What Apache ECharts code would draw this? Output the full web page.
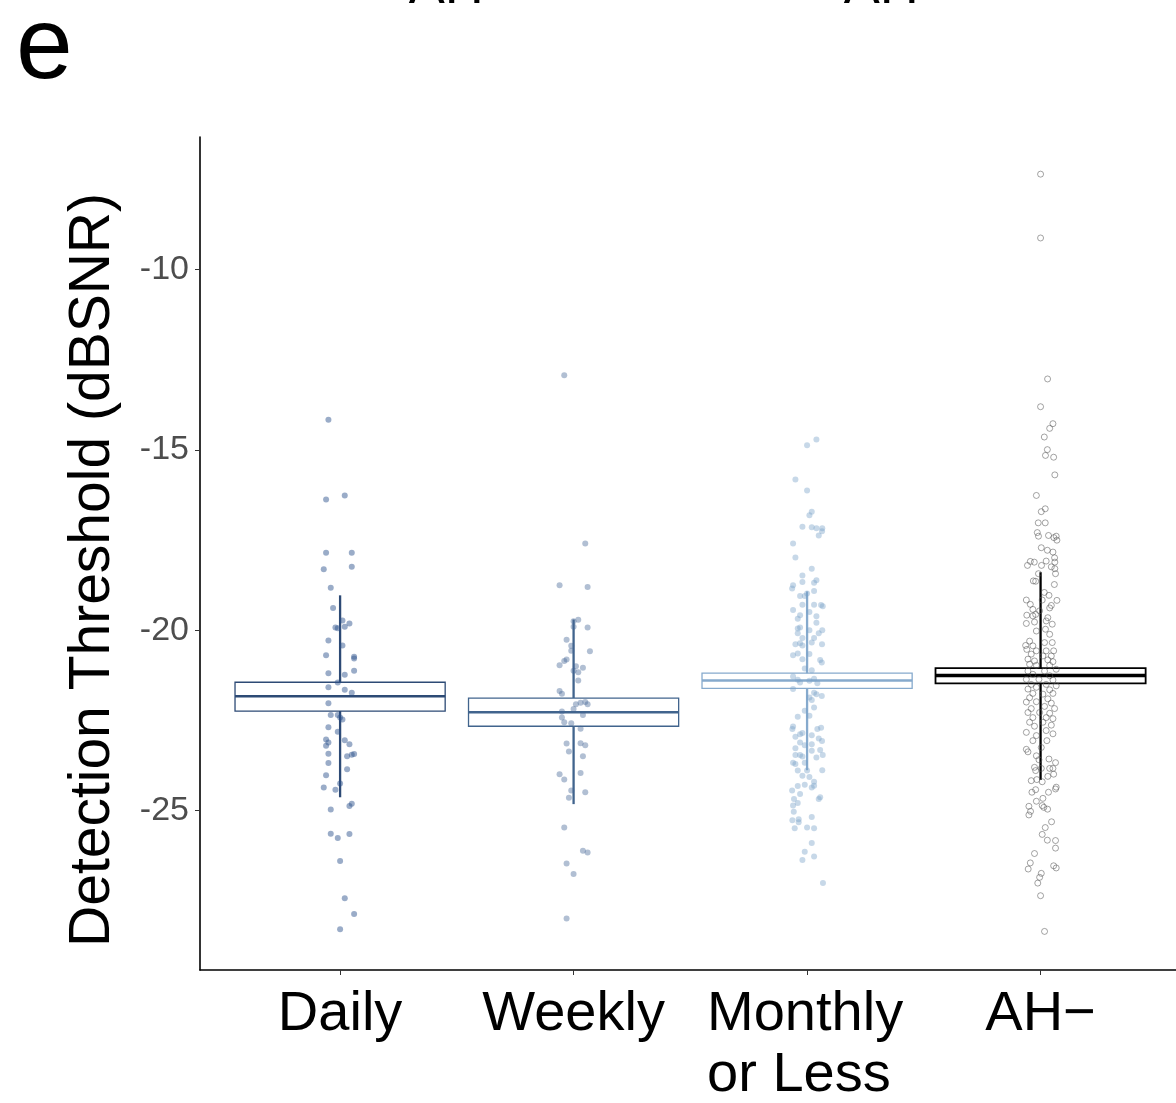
<!DOCTYPE html>
<html>
<head>
<meta charset="utf-8">
<script src="https://cdn.jsdelivr.net/npm/echarts@6/dist/echarts.min.js"></script>
<style>
html,body{margin:0;padding:0;background:#fff;}
#chart{width:1176px;height:1103px;}
</style>
</head>
<body>
<div id="chart"></div>
<script>
// ---------- data ----------
const categories = ['Daily', 'Weekly', 'Monthly\nor Less', 'AH\u2212'];
const yTicks = [-25, -20, -15, -10];
const yTitle = 'Detection Threshold (dBSNR)';
const panelLetter = 'e';
const topLabels = ['AH+', 'AH\u2212'];

// summary bars (mean box and range line)
const boxMid  = [-21.83, -22.27, -21.39, -21.25];
const boxLow  = [-22.24, -22.66, -21.61, -21.47];
const boxHigh = [-21.44, -21.88, -21.19, -21.05];
const lineLow  = [-24.63, -24.82, -23.88, -24.15];
const lineHigh = [-19.03, -19.70, -18.92, -18.39];

// jittered points: [jitter offset (category units), value]
const dailyPoints = [
[-0.05,-14.16],[-0.06,-16.37],[0.02,-16.26],[-0.06,-17.85],[0.05,-17.85],[-0.07,-18.31],[0.05,-18.24],[-0.04,-18.82],
[-0.03,-19.38],[0.01,-19.73],[0.04,-19.81],[-0.02,-19.92],[-0.01,-19.94],[0.02,-19.90],[-0.05,-20.28],[0.01,-20.42],
[-0.06,-20.69],[0.06,-20.73],[0.06,-20.78],[-0.05,-21.19],[0.02,-21.23],[0.06,-21.12],
[-0.01,-21.45],[-0.05,-21.58],[0.02,-21.65],[0.05,-21.73],[-0.05,-22.02],[-0.04,-22.35],[-0.01,-22.35],[0,-22.42],
[0.01,-22.47],[-0.05,-22.69],[-0.01,-22.81],[-0.06,-23.03],[-0.05,-23.11],[-0.06,-23.20],[0.02,-23.05],[0.04,-23.16],
[-0.05,-23.42],[0.03,-23.49],[0.05,-23.45],[0.06,-23.43],[-0.05,-23.68],[0.03,-23.85],[-0.06,-24.02],[0,-24.25],
[-0.07,-24.36],[-0.02,-24.42],[0.04,-24.87],[0.05,-24.81],[-0.04,-24.97],[-0.04,-25.64],[0.04,-25.65],[-0.01,-25.76],
[0,-26.40],[0.02,-27.43],[0.06,-27.87],[0,-28.29]
];
const weeklyPoints = [
[-0.04,-12.93],[0.05,-17.59],[-0.06,-18.75],[0.06,-18.80],[0,-19.75],[0.02,-19.71],[0,-19.90],[0.06,-19.92],
[-0.03,-20.26],[-0.01,-20.43],[0.07,-20.58],
[-0.01,-20.57],[-0.03,-20.81],[-0.04,-20.85],[-0.06,-20.97],[0.01,-21.00],[0.04,-21.04],[0,-21.12],[0.02,-21.16],
[0.02,-21.39],[-0.06,-21.68],[-0.05,-21.76],[0.01,-22.05],[0.03,-22.01],[0.05,-21.99],[0.06,-22.05],[0,-22.18],
[-0.05,-22.25],[0.04,-22.35],[-0.05,-22.42],[-0.04,-22.55],[-0.01,-22.58],[0.03,-22.73],[-0.03,-23.14],[0.03,-23.13],
[0.05,-23.19],[-0.02,-23.36],[0.04,-23.49],[-0.06,-23.99],[0.03,-23.96],[-0.04,-24.14],[-0.01,-24.44],[0.05,-24.49],
[-0.02,-24.64],[-0.04,-25.47],[0.04,-26.11],[0.06,-26.16],[-0.03,-26.47],[0,-26.76],[-0.03,-27.99]
];
const monthlyPoints = [
[0.04,-14.71],[0,-14.87],[-0.05,-15.82],[0,-16.12],[0.02,-16.71],[0.01,-16.81],[-0.02,-17.13],[0.02,-17.14],
[0.04,-17.17],[0.065,-17.17],[0.064,-17.25],[0.05,-17.37],[-0.06,-17.59],[-0.05,-17.98],[0.02,-18.29],[-0.02,-18.48],
[0.04,-18.61],[-0.02,-18.66],[0.03,-18.68],[-0.06,-18.75],[-0.064,-18.84],[0.03,-18.91],[0,-18.98],[-0.03,-19.05],
[-0.01,-19.05],[-0.02,-19.29],[0.03,-19.29],[0.06,-19.30],[0.067,-19.33],[-0.06,-19.44],[0.01,-19.49],[-0.03,-19.58],
[0.04,-19.61],[-0.04,-19.68],[0.04,-19.79],[-0.04,-19.95],[-0.03,-19.92],[0.01,-20.00],[0.05,-20.08],[0.065,-20.00],
[-0.04,-20.08],[-0.02,-20.21],[0.03,-20.21],
[-0.05,-20.39],[-0.03,-20.36],[-0.02,-20.42],[0.02,-20.34],[0.064,-20.39],[-0.06,-20.69],[-0.04,-20.64],[0.01,-20.66],
[-0.02,-20.80],[0.056,-20.82],[0.063,-20.89],[-0.01,-21.06],[0.02,-21.11],[-0.06,-21.28],[-0.04,-21.37],[-0.03,-21.45],
[0.01,-21.40],[0.03,-21.34],[0.044,-21.47],[-0.06,-21.63],[0.03,-21.73],[0.04,-21.77],[0.063,-21.82],[0.01,-21.86],
[0.02,-21.93],[0.03,-22.14],[-0.01,-22.23],[0.01,-22.37],[-0.04,-22.40],[-0.06,-22.67],[-0.063,-22.74],[0.044,-22.74],
[0.06,-22.70],[-0.05,-22.95],[-0.03,-22.88],[-0.02,-22.85],[0.02,-22.91],[0.05,-23.00],[0.064,-23.07],[-0.03,-23.11],
[-0.01,-23.19],[0.02,-23.16],[-0.05,-23.27],[0.02,-23.34],[0.056,-23.32],[-0.05,-23.46],[-0.03,-23.46],[-0.02,-23.50],
[0.067,-23.46],[0.04,-23.53],[-0.06,-23.67],[-0.05,-23.71],[-0.01,-23.67],[-0.04,-23.89],[0,-23.89],[0.065,-23.88],
[-0.02,-24.03],[0.01,-24.07],[0.03,-24.20],[-0.04,-24.32],[-0.01,-24.28],[0.02,-24.36],[0.03,-24.31],[-0.064,-24.44],
[-0.03,-24.54],[0.056,-24.63],[0.05,-24.68],[-0.056,-24.68],[-0.04,-24.79],[-0.06,-24.86],[-0.057,-25.03],[0.02,-25.18],
[-0.063,-25.27],[-0.036,-25.24],[-0.036,-25.32],[-0.053,-25.49],[0,-25.47],[0.03,-25.49],[0.02,-25.90],[-0.01,-26.14],
[0.03,-26.27],[-0.02,-26.37],[0.068,-27.01]
];
const ahNegPoints = [
[0,-7.35],[0,-9.12],[0.03,-13.03],[0,-13.80],[0.053,-14.27],[0.039,-14.40],[0.016,-14.64],[0.029,-14.99],
[0.021,-15.15],[0.056,-15.20],[0.061,-15.69],
[-0.018,-16.26],[0.003,-16.71],[0.02,-16.63],[-0.01,-17.02],[0.02,-17.02],[-0.014,-17.29],[-0.009,-17.39],[0.034,-17.37],
[0.057,-17.43],[0.067,-17.39],[0.07,-17.50],[0.003,-17.71],[0.029,-17.78],[0.053,-17.83],[0.06,-17.99],[-0.044,-18.09],
[-0.056,-18.20],[-0.027,-18.11],[0.004,-18.20],[0.024,-18.08],[0.046,-18.24],[0.061,-18.11],[0.061,-18.29],[0.064,-18.43],
[-0.009,-18.43],[-0.031,-18.63],[-0.021,-18.64],[0.059,-18.73],[0.016,-18.95],[0.036,-19.03],[-0.061,-19.16],[0.007,-19.16],
[0.07,-19.17],[-0.044,-19.28],[0.046,-19.31],[0.039,-19.38],[-0.033,-19.42],[-0.004,-19.46],[-0.059,-19.58],[-0.033,-19.60],
[-0.021,-19.56],[0.031,-19.65],
[-0.061,-19.81],[-0.026,-19.77],[0.024,-19.74],[0.05,-19.83],[-0.018,-20.02],[0.021,-19.97],[0.039,-20.11],[-0.047,-20.30],
[-0.064,-20.42],[-0.033,-20.43],[0.017,-20.34],[0.05,-20.34],[-0.059,-20.53],[-0.018,-20.57],[0.024,-20.57],[0.056,-20.57],
[-0.04,-20.66],[0.01,-20.71],[0.046,-20.71],[-0.054,-20.80],[-0.026,-20.85],[0.031,-20.82],[0.053,-20.87],[-0.047,-20.94],
[-0.018,-20.97],[0.039,-20.97],[0.067,-21.08],[-0.054,-21.13],[0.017,-21.13],[-0.033,-21.22],[0.039,-21.26],[-0.061,-21.36],
[-0.007,-21.36],[0.053,-21.38],[-0.04,-21.50],[0.024,-21.50],[0.067,-21.54],[-0.054,-21.63],[-0.018,-21.58],[0.039,-21.65],
[-0.033,-21.75],[0.01,-21.77],[0.053,-21.75],[-0.047,-21.87],[0.031,-21.90],[-0.061,-21.99],[-0.018,-21.98],[0.046,-22.02],
[0.017,-22.11],[-0.04,-22.17],[0.06,-22.17],[-0.054,-22.28],[-0.004,-22.28],[0.039,-22.30],[-0.033,-22.42],[0.024,-22.42],
[0.053,-22.45],[-0.047,-22.55],[0.01,-22.55],[0.046,-22.63],[-0.026,-22.66],[-0.061,-22.83],[0.024,-22.78],[0.053,-22.87],
[-0.018,-22.92],
[-0.033,-23.06],[0.027,-23.06],[-0.061,-23.30],[-0.054,-23.37],[0.003,-23.25],[-0.018,-23.48],[-0.007,-23.59],[0.036,-23.57],
[0.064,-23.67],[-0.026,-23.80],[0.003,-23.83],[0.039,-23.83],[0.053,-23.83],[-0.021,-23.89],[0.056,-23.99],[0.031,-24.05],
[-0.04,-24.17],[-0.016,-24.14],[0.007,-24.20],[0.067,-24.35],[0.064,-24.40],[-0.021,-24.42],[-0.037,-24.49],[0.034,-24.49],
[0.01,-24.66],[-0.018,-24.74],[-0.05,-24.88],[0.007,-24.86],[0.014,-24.91],[0.03,-24.96],[-0.043,-25.02],[-0.05,-25.12],
[0.047,-25.31],[0.02,-25.47],[0.007,-25.66],[0.029,-25.82],[0.064,-25.83],[0.064,-26.04],[-0.026,-26.19],[-0.044,-26.45],
[-0.053,-26.62],[0.056,-26.53],[0.067,-26.59],[0.003,-26.74],[-0.004,-26.85],[-0.012,-27.01],[0,-27.36],[0.017,-28.35]
];
const groupPoints = [dailyPoints, weeklyPoints, monthlyPoints, ahNegPoints];

// ---------- styles ----------
const boxColors = ['#2d4a75', '#41648d', '#86aacd', '#000000'];
const boxBorder = [1.3, 1.3, 1.3, 1.8];
const midWidth = [2.5, 2.5, 2.5, 3.5];
const pointStyles = [
  {color: 'rgba(44,82,140,0.6)', borderWidth: 0},
  {color: 'rgba(68,102,148,0.52)', borderWidth: 0},
  {color: 'rgba(120,160,200,0.52)', borderWidth: 0},
  {color: 'rgba(255,255,255,0)', borderColor: 'rgba(85,85,85,0.75)', borderWidth: 0.9}
];
const pointSizes = [6, 6, 6, 6];

const chart = echarts.init(document.getElementById('chart'), null, {renderer: 'canvas'});
const FONT = '"Liberation Sans", Arial, Helvetica, sans-serif';

const lineData = categories.map((c, i) => [i + 1, lineLow[i], lineHigh[i]]);
const boxData = categories.map((c, i) => [i + 1, boxLow[i], boxHigh[i], boxMid[i]]);

const series = [
  {
    type: 'custom', z: 1, data: lineData, silent: true,
    renderItem: function (params, api) {
      const i = params.dataIndex;
      const a = api.coord([api.value(0), api.value(1)]);
      const b = api.coord([api.value(0), api.value(2)]);
      return {type: 'line', shape: {x1: a[0], y1: a[1], x2: b[0], y2: b[1]},
        style: {stroke: boxColors[i], lineWidth: 2.3}};
    }
  },
  {
    type: 'custom', z: 2, data: boxData, silent: true,
    renderItem: function (params, api) {
      const i = params.dataIndex;
      const x = api.value(0);
      const p1 = api.coord([x - 0.45, api.value(2)]);
      const p2 = api.coord([x + 0.45, api.value(1)]);
      const m1 = api.coord([x - 0.45, api.value(3)]);
      const m2 = api.coord([x + 0.45, api.value(3)]);
      return {type: 'group', children: [
        {type: 'rect', shape: {x: p1[0], y: p1[1], width: p2[0] - p1[0], height: p2[1] - p1[1]},
          style: {fill: '#fff', stroke: boxColors[i], lineWidth: boxBorder[i]}},
        {type: 'line', shape: {x1: m1[0], y1: m1[1], x2: m2[0], y2: m2[1]},
          style: {stroke: boxColors[i], lineWidth: midWidth[i]}}
      ]};
    }
  }
];
groupPoints.forEach((pts, gi) => {
  series.push({
    type: 'scatter', z: 3, silent: true,
    symbol: 'circle', symbolSize: pointSizes[gi],
    itemStyle: pointStyles[gi],
    data: pts.map(p => [gi + 1 + p[0], p[1]])
  });
});

function xLabel(v) {
  const name = categories[Math.round(v) - 1] || '';
  if (name.indexOf('\n') >= 0) {
    return name.split('\n').map(s => '{m|' + s + '}').join('\n');
  }
  return name;
}

chart.setOption({
  animation: false,
  backgroundColor: '#fff',
  grid: {left: 200, right: 0, top: 137, bottom: 133, containLabel: false, outerBoundsMode: 'none'},
  xAxis: {
    type: 'value', min: 0.4, max: 4.58,
    axisLine: {show: true, onZero: false, lineStyle: {color: '#000', width: 1.6}},
    axisTick: {show: true, customValues: [1, 2, 3, 4], length: 5, lineStyle: {color: '#333', width: 1}},
    splitLine: {show: false},
    axisLabel: {
      customValues: [1, 2, 3, 4], margin: 14, hideOverlap: false,
      formatter: xLabel,
      fontFamily: FONT, fontSize: 56, color: '#000', lineHeight: 61, verticalAlign: 'top',
      rich: {m: {fontFamily: FONT, fontSize: 56, color: '#000', lineHeight: 61, width: 200, align: 'left'}}
    }
  },
  yAxis: {
    type: 'value', min: -29.42, max: -6.32,
    axisLine: {show: true, onZero: false, lineStyle: {color: '#000', width: 1.6}},
    axisTick: {show: true, customValues: yTicks, length: 5, lineStyle: {color: '#333', width: 1}},
    splitLine: {show: false},
    axisLabel: {customValues: yTicks, margin: 11, fontFamily: FONT, fontSize: 34, color: '#4d4d4d'}
  },
  graphic: [
    {type: 'text', left: 16, top: -1, style: {text: panelLetter, font: '102px ' + FONT, fill: '#000'}},
    {type: 'text', x: 462, y: -12, style: {text: topLabels[0], font: '54px ' + FONT, fill: '#000', align: 'center', verticalAlign: 'middle'}},
    {type: 'text', x: 897, y: -12, style: {text: topLabels[1], font: '54px ' + FONT, fill: '#000', align: 'center', verticalAlign: 'middle'}},
    {type: 'text', x: 93, y: 570, rotation: Math.PI / 2,
      style: {text: yTitle, font: '57px ' + FONT, fill: '#000', align: 'center', verticalAlign: 'middle'}}
  ],
  series: series
});
</script>
</body>
</html>
